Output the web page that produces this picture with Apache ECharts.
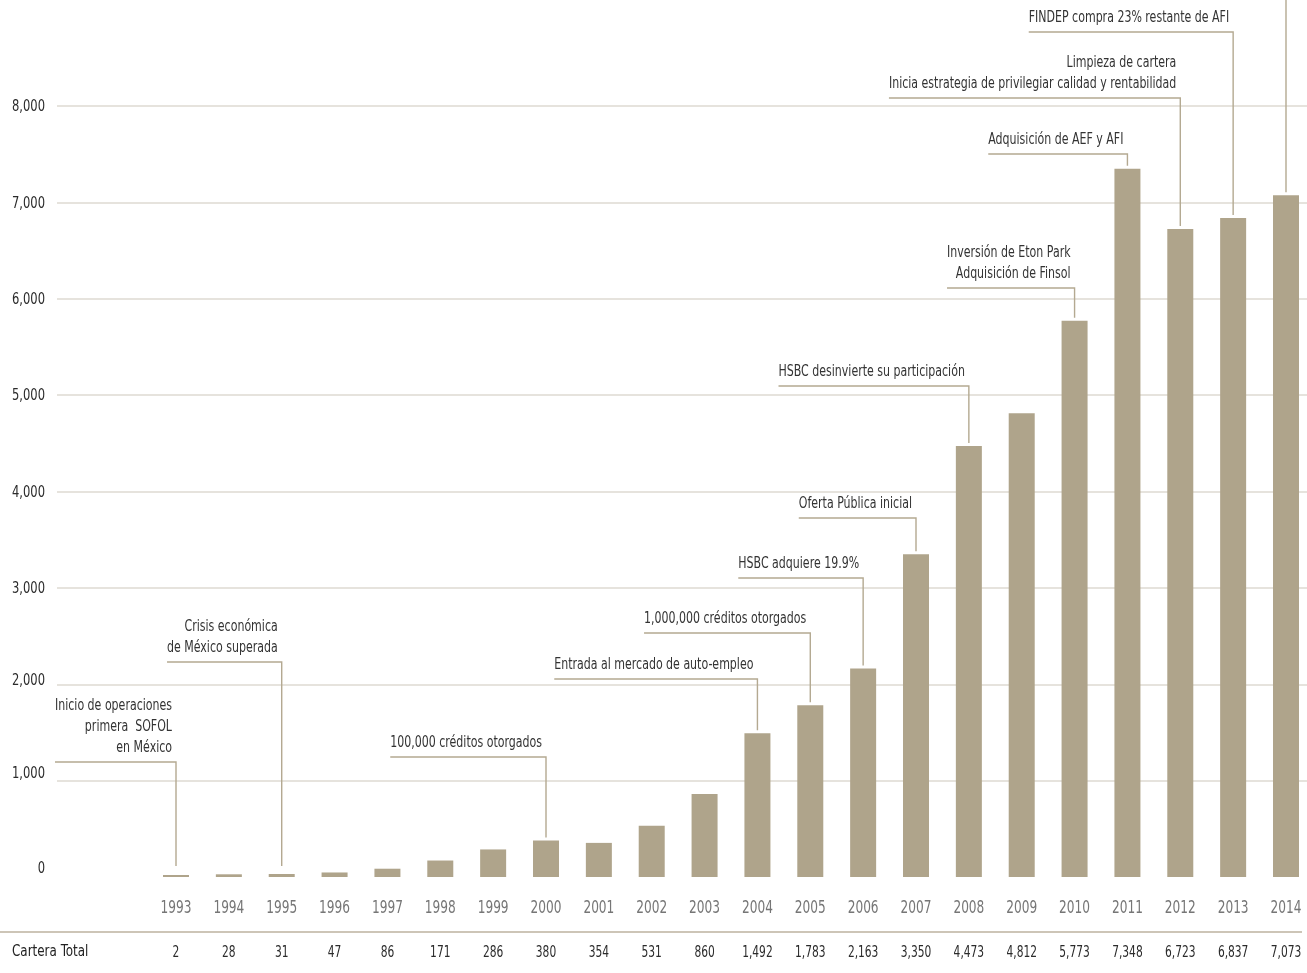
<!DOCTYPE html>
<html>
<head>
<meta charset="utf-8">
<title>Cartera Total</title>
<script src="https://cdn.jsdelivr.net/npm/echarts@6/dist/echarts.min.js"></script>
<style>
  html, body { margin: 0; padding: 0; background: #fff; }
  #chart { width: 1307px; height: 973px; }
</style>
</head>
<body>
<div id="chart"></div>
<script>
const years = ['1993', '1994', '1995', '1996', '1997', '1998', '1999', '2000', '2001', '2002', '2003',
  '2004', '2005', '2006', '2007', '2008', '2009', '2010', '2011', '2012', '2013', '2014'];
const carteraTotal = [2, 28, 31, 47, 86, 171, 286, 380, 354, 531, 860,
  1492, 1783, 2163, 3350, 4473, 4812, 5773, 7348, 6723, 6837, 7073];
const yTicks = [0, 1000, 2000, 3000, 4000, 5000, 6000, 7000, 8000];

// hitos: año del evento y su texto
const eventYears = ['1993', '1995', '2000', '2004', '2005', '2006', '2007', '2008', '2010', '2011', '2012', '2013', '2014'];
const eventTexts = [
  ['Inicio de operaciones', 'primera  SOFOL', 'en México'],
  ['Crisis económica', 'de México superada'],
  ['100,000 créditos otorgados'],
  ['Entrada al mercado de auto-empleo'],
  ['1,000,000 créditos otorgados'],
  ['HSBC adquiere 19.9%'],
  ['Oferta Pública inicial'],
  ['HSBC desinvierte su participación'],
  ['Inversión de Eton Park', 'Adquisición de Finsol'],
  ['Adquisición de AEF y AFI'],
  ['Limpieza de cartera', 'Inicia estrategia de privilegiar calidad y rentabilidad'],
  ['FINDEP compra 23% restante de AFI'],
  []
];

// layout only: pixel height of each leader's horizontal run
const leaderY = [762, 662, 757, 679, 633, 578, 518, 386, 288, 154, 98, 32, -10];

const FONT = "'DejaVu Sans Condensed', 'Liberation Sans Narrow', sans-serif";
const BAR = '#afa48b';
const LEADER = '#b4a991';
const GRIDLINE = '#dedad2';
const NOTE_SX = 0.765;   // squeeze to mimic the condensed face
const GRID_TOP = 106;
const GRID_BOTTOM = 96;

const fmt = v => Number(v).toLocaleString('en-US');

const chart = echarts.init(document.getElementById('chart'));

const option = {
  animation: false,
  backgroundColor: '#fff',
  grid: [
    { left: 57, right: 0, top: GRID_TOP, bottom: GRID_BOTTOM },
    { left: 176, right: 21, top: GRID_TOP, bottom: GRID_BOTTOM }
  ],
  xAxis: [
    { gridIndex: 0, type: 'value', min: 0, max: 1, show: false },
    {
      gridIndex: 1,
      type: 'category',
      data: years,
      boundaryGap: false,
      axisLine: { show: false },
      axisTick: { show: false },
      axisLabel: { show: false },
      splitLine: { show: false }
    }
  ],
  yAxis: [
    {
      gridIndex: 0,
      type: 'value',
      min: 0,
      max: 8000,
      interval: 1000,
      axisLine: { show: false },
      axisTick: { show: false },
      axisLabel: { show: false },
      splitLine: {
        show: true,
        lineStyle: { color: yTicks.map(t => (t === 0 ? 'rgba(0,0,0,0)' : GRIDLINE)), width: 1.5 }
      }
    },
    { gridIndex: 1, type: 'value', min: 0, max: 8000, interval: 1000, show: false, splitLine: { show: false } }
  ],
  series: [
    {
      name: 'Cartera Total',
      type: 'bar',
      xAxisIndex: 1,
      yAxisIndex: 1,
      data: carteraTotal,
      barWidth: 26,
      barMinHeight: 2,
      itemStyle: { color: BAR }
    }
  ]
};

chart.setOption(option);

const measure = document.createElement('canvas').getContext('2d');
measure.font = '16px ' + FONT;

const txt = (x, y, text, size, color, sx, align, vAlign) => ({
  type: 'text',
  silent: true,
  x: x,
  y: y,
  scaleX: sx,
  style: {
    text: text,
    fontSize: size,
    fontFamily: FONT,
    lineHeight: 21,
    fill: color,
    align: align,
    verticalAlign: vAlign || 'middle'
  }
});

const graphics = [
  { type: 'line', silent: true, shape: { x1: 0, y1: 932, x2: 1302, y2: 932 }, style: { stroke: '#bcb29f', lineWidth: 1.6 } },
  txt(12, 952, 'Cartera Total', 16, '#222', 0.83, 'left')
];

// y axis labels
yTicks.forEach(t => {
  const y = chart.convertToPixel({ yAxisIndex: 0 }, t);
  graphics.push(txt(45, y + (t === 0 ? -8 : t === 1000 ? -7 : t === 2000 ? -3 : 1), fmt(t), 16, '#2b2b2b', 0.8, 'right'));
});

// year row + total row
years.forEach((yr, idx) => {
  const [bx, base] = chart.convertToPixel({ seriesIndex: 0 }, [idx, 0]);
  graphics.push(txt(bx, base + 31, yr, 18, '#767676', 0.75, 'center'));
  graphics.push(txt(bx, base + 76, fmt(carteraTotal[idx]), 16, '#2b2b2b', 0.74, 'center'));
});

// leader lines + hitos, anchored to the bars through the axes
eventYears.forEach((yr, i) => {
  const idx = years.indexOf(yr);
  const [bx, by] = chart.convertToPixel({ seriesIndex: 0 }, [idx, carteraTotal[idx]]);
  const base = chart.convertToPixel({ seriesIndex: 0 }, [idx, 0])[1];
  const end = Math.min(by - 3, base - 11);
  const lines = eventTexts[i];
  const hy = leaderY[i];
  const textRight = bx - 4;
  let pts;
  if (lines.length) {
    const w = Math.max(...lines.map(l => measure.measureText(l).width)) * NOTE_SX;
    pts = [[textRight - w, hy], [bx, hy], [bx, end]];
    graphics.push(txt(textRight, hy - 4, lines.join('\n'), 16, '#333', NOTE_SX, 'right', 'bottom'));
  } else {
    pts = [[bx, hy], [bx, end]];
  }
  graphics.push({
    type: 'polyline',
    silent: true,
    shape: { points: pts },
    style: { stroke: LEADER, lineWidth: 1.4, fill: null }
  });
});

chart.setOption({ graphic: graphics });

window.addEventListener('resize', () => {
  chart.resize();
});
</script>
</body>
</html>
